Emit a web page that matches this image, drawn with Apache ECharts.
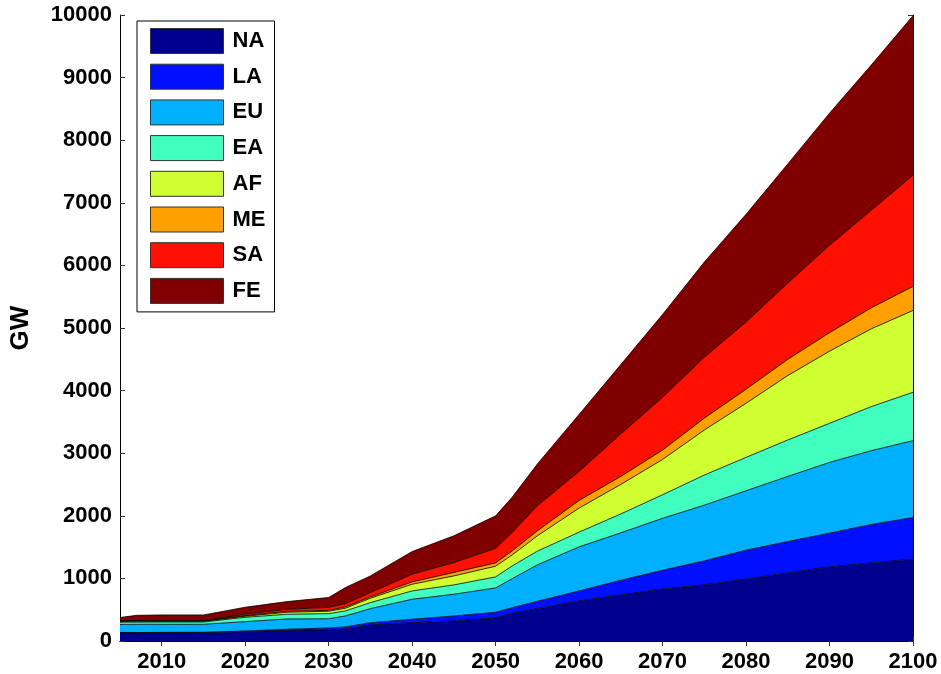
<!DOCTYPE html>
<html>
<head>
<meta charset="utf-8">
<script src="https://cdn.jsdelivr.net/npm/echarts@6/dist/echarts.min.js"></script>
<style>
  html, body { margin: 0; padding: 0; background: #fff; }
  #chart { width: 941px; height: 674px; }
</style>
</head>
<body>
<div id="chart"></div>
<script>
// Installed capacity by region (GW), stacked from the bottom up
const years = [2005, 2007, 2010, 2015, 2020, 2025, 2030, 2032, 2035, 2040, 2045, 2050, 2052, 2055, 2060, 2065, 2070, 2075, 2080, 2085, 2090, 2095, 2100];

const regions = ['NA', 'LA', 'EU', 'EA', 'AF', 'ME', 'SA', 'FE'];
const regionColors = ['#00008f', '#0010ff', '#00b0ff', '#40ffbf', '#cfff30', '#ffa000', '#ff1000', '#800000'];

const NA = [130, 130, 133, 133, 149, 171, 180, 190, 256, 293, 320, 368, 443, 517, 640, 736, 832, 896, 987, 1088, 1184, 1248, 1307];
const LA = [5, 5, 5, 7, 11, 16, 28, 35, 37, 54, 80, 91, 90, 118, 160, 235, 298, 384, 464, 501, 539, 613, 666];
const EU = [130, 132, 129, 127, 149, 165, 147, 175, 224, 320, 347, 389, 464, 581, 704, 757, 830, 890, 949, 1040, 1130, 1179, 1227];
const EA = [35, 35, 37, 37, 70, 75, 82, 80, 96, 133, 149, 176, 203, 219, 235, 302, 376, 481, 533, 582, 624, 704, 773];
const AF = [13, 13, 12, 12, 16, 32, 38, 43, 70, 107, 144, 171, 176, 245, 384, 471, 564, 719, 864, 1029, 1152, 1243, 1307];
const ME = [7, 7, 4, 4, 10, 16, 15, 21, 21, 37, 55, 53, 64, 80, 122, 128, 150, 190, 225, 260, 295, 335, 384];
const SA = [5, 5, 5, 5, 22, 32, 46, 53, 69, 123, 158, 232, 293, 400, 464, 678, 843, 973, 1071, 1217, 1396, 1558, 1776];
const FE = [50, 83, 91, 91, 112, 122, 159, 256, 267, 362, 427, 520, 567, 667, 911, 1109, 1323, 1520, 1723, 1904, 2112, 2320, 2550];

const seriesValues = [NA, LA, EU, EA, AF, ME, SA, FE];

const xTicks = [2010, 2020, 2030, 2040, 2050, 2060, 2070, 2080, 2090, 2100];
const yMax = 10000;
const yStep = 1000;

const font = 'Liberation Sans, Arial, sans-serif';

const chart = echarts.init(document.getElementById('chart'), null, { renderer: 'canvas' });

const boxAxisLine = { show: true, lineStyle: { color: '#000', width: 1 } };
const boxTick = { show: true, inside: true, length: 5, lineStyle: { color: '#333', width: 1 } };
const plain = v => String(v);

// Each point is [GW, year]; the GW column comes first so it is the one the stack sums.
const series = regions.map((name, i) => ({
  name: name,
  type: 'line',
  stack: 'total',
  symbol: 'none',
  smooth: false,
  color: regionColors[i],
  lineStyle: { color: '#000', width: 0.8 },
  areaStyle: { color: regionColors[i], opacity: 1 },
  encode: { x: 1, y: 0 },
  data: years.map((y, k) => [seriesValues[i][k], y]),
  z: 2
}));

chart.setOption({
  animation: false,
  backgroundColor: '#fff',
  grid: { left: 119, right: 28, top: 15, bottom: 33, containLabel: false },
  xAxis: [
    {
      type: 'value', min: 2005, max: 2100, position: 'bottom',
      axisLine: boxAxisLine,
      axisTick: Object.assign({}, boxTick, { customValues: xTicks }),
      axisLabel: {
        customValues: xTicks, margin: 10, formatter: plain,
        color: '#000', fontFamily: font, fontWeight: 'bold', fontSize: 22
      },
      splitLine: { show: false }
    },
    {
      type: 'value', min: 2005, max: 2100, position: 'top',
      axisLine: boxAxisLine,
      axisTick: Object.assign({}, boxTick, { customValues: xTicks }),
      axisLabel: { show: false },
      splitLine: { show: false }
    }
  ],
  yAxis: [
    {
      type: 'value', min: 0, max: yMax, interval: yStep, position: 'left',
      name: 'GW', nameLocation: 'middle', nameGap: 86, nameRotate: 90,
      nameTextStyle: { color: '#000', fontFamily: font, fontWeight: 'bold', fontSize: 26 },
      axisLine: boxAxisLine,
      axisTick: boxTick,
      axisLabel: { margin: 8, formatter: plain, color: '#000', fontFamily: font, fontWeight: 'bold', fontSize: 22 },
      splitLine: { show: false }
    },
    {
      type: 'value', min: 0, max: yMax, interval: yStep, position: 'right',
      axisLine: boxAxisLine,
      axisTick: boxTick,
      axisLabel: { show: false },
      splitLine: { show: false }
    }
  ],
  legend: {
    data: regions,
    orient: 'vertical',
    left: 137, top: 21,
    icon: 'rect',
    itemWidth: 73, itemHeight: 25, itemGap: 9.7,
    padding: [7, 9, 8, 13],
    backgroundColor: '#fff',
    borderColor: '#000', borderWidth: 1,
    itemStyle: { borderColor: '#333', borderWidth: 1 },
    textStyle: { color: '#000', fontFamily: font, fontWeight: 'bold', fontSize: 22, padding: [0, 0, 0, 4] },
    selectedMode: false
  },
  series: series
});
</script>
</body>
</html>
